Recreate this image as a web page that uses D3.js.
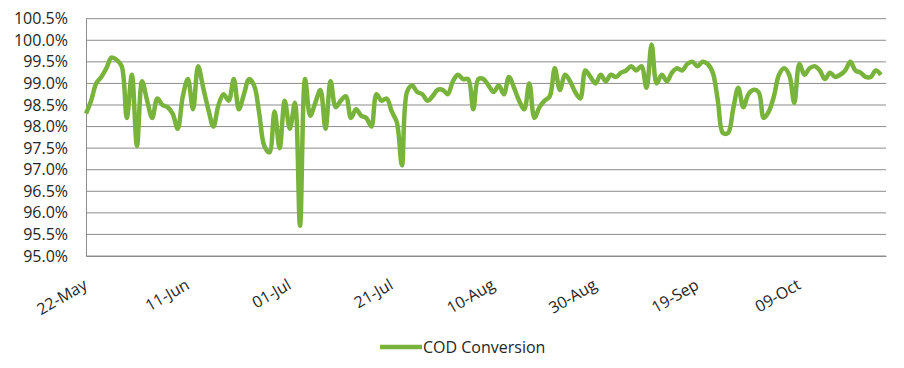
<!DOCTYPE html>
<html>
<head>
<meta charset="utf-8">
<script src="https://cdn.jsdelivr.net/npm/d3@7"></script>
<style>
  body { margin: 0; background: #fff; }
  text { font-family: "Open Sans", "Liberation Sans", sans-serif; fill: #262626; }
</style>
</head>
<body>
<div id="chart-area"></div>
<script>
// daily COD conversion (%), first day 22-May
var startDay = "22/05/2019";
var conversion = [
  98.3, 98.6, 99.0, 99.15, 99.35, 99.6, 99.55, 99.4, 98.2, 99.2,
  97.55, 99.05, 98.6, 98.2, 98.65, 98.5, 98.45, 98.3, 97.95, 98.7,
  99.1, 98.4, 99.4, 98.9, 98.4, 98.0, 98.5, 98.75, 98.6, 99.1,
  98.4, 98.75, 99.1, 98.95, 98.3, 97.55, 97.4, 98.35, 97.5, 98.6,
  97.95, 98.55, 95.7, 99.1, 98.25, 98.55, 98.85, 97.95, 99.05, 98.45,
  98.6, 98.7, 98.2, 98.4, 98.25, 98.2, 98.0, 98.75, 98.6, 98.65,
  98.35, 98.1, 97.1, 98.8, 98.95, 98.8, 98.75, 98.6, 98.7, 98.85,
  98.85, 98.75, 99.05, 99.2, 99.1, 99.1, 98.4, 99.1, 99.1, 98.95,
  98.8, 98.95, 98.75, 99.15, 98.9, 98.6, 98.4, 99.0, 98.2, 98.45,
  98.6, 98.7, 99.35, 98.85, 99.2, 99.05, 98.8, 98.65, 99.3, 99.15,
  99.0, 99.2, 99.05, 99.2, 99.15, 99.25, 99.3, 99.4, 99.3, 99.4,
  98.9, 99.9, 99.0, 99.2, 99.05, 99.25, 99.35, 99.3, 99.45, 99.5,
  99.4, 99.5, 99.45, 99.25, 98.6, 97.85, 97.85, 98.4, 98.9, 98.45,
  98.75, 98.85, 98.8, 98.2, 98.35, 98.7, 99.2, 99.35, 99.2, 98.55,
  99.45, 99.2, 99.35, 99.4, 99.3, 99.1, 99.25, 99.15, 99.2, 99.3,
  99.5, 99.3, 99.25, 99.15, 99.15, 99.3, 99.2
];
var xTicks = ["22/05/2019", "11/06/2019", "01/07/2019", "21/07/2019",
              "10/08/2019", "30/08/2019", "19/09/2019", "09/10/2019"];
var yTicks = [95.0, 95.5, 96.0, 96.5, 97.0, 97.5, 98.0, 98.5, 99.0, 99.5, 100.0, 100.5];
var seriesName = "COD Conversion";

var margin = { left: 86, right: 18, top: 18.7, bottom: 112 },
    width = 904 - margin.left - margin.right,
    height = 368 - margin.top - margin.bottom;

var svg = d3.select("#chart-area").append("svg")
    .attr("width", 904)
    .attr("height", 368);

var g = svg.append("g")
    .attr("transform", "translate(" + margin.left + "," + margin.top + ")");

var parseTime = d3.timeParse("%d/%m/%Y");
var day0 = parseTime(startDay);

var data = conversion.map(function(v, i) {
    return { date: d3.timeDay.offset(day0, i), value: v };
});

var x_scale = d3.scaleTime()
    .domain([day0, d3.timeDay.offset(day0, 157)])
    .range([0, width]);
var y_scale = d3.scaleLinear()
    .domain([95, 100.5])
    .range([height, 0]);

// gridlines
g.selectAll(".grid")
    .data(yTicks)
    .enter().append("line")
    .attr("class", "grid")
    .attr("x1", 0)
    .attr("x2", width)
    .attr("y1", function(d) { return y_scale(d); })
    .attr("y2", function(d) { return y_scale(d); })
    .attr("stroke", "#8c8c8c")
    .attr("stroke-width", 1);

// y axis
var yAxis = g.append("g")
    .call(d3.axisLeft(y_scale)
        .tickValues(yTicks)
        .tickSize(0)
        .tickPadding(18)
        .tickFormat(function(d) { return d3.format(".1f")(d) + "%"; }));
yAxis.select(".domain").attr("stroke", "#8c8c8c");
yAxis.selectAll("text").attr("font-size", "16px").attr("fill", "#262626");

// x axis
var xAxis = g.append("g")
    .attr("transform", "translate(0," + height + ")")
    .call(d3.axisBottom(x_scale)
        .tickValues(xTicks.map(parseTime))
        .tickSize(0)
        .tickFormat(d3.timeFormat("%d-%b")));
xAxis.select(".domain").attr("stroke", "#8c8c8c");
xAxis.selectAll("text")
    .attr("font-size", "16px")
    .attr("fill", "#262626")
    .attr("text-anchor", "end")
    .attr("dy", "0")
    .attr("y", 0)
    .attr("transform", "translate(2,32) rotate(-30)");

// line
var line = d3.line()
    .curve(d3.curveCatmullRom.alpha(0.5))
    .x(function(d) { return x_scale(d.date); })
    .y(function(d) { return y_scale(d.value); });

g.append("path")
    .datum(data)
    .attr("fill", "none")
    .attr("stroke", "#78b33c")
    .attr("stroke-width", 4.5)
    .attr("stroke-linejoin", "round")
    .attr("d", line);

// legend
var legend = svg.append("g")
    .attr("transform", "translate(380,347)");
legend.append("line")
    .attr("x1", 0)
    .attr("x2", 42)
    .attr("stroke", "#78b33c")
    .attr("stroke-width", 4.5);
legend.append("text")
    .attr("x", 43)
    .attr("dy", "0.35em")
    .attr("font-size", "16px")
    .text(seriesName);
</script>
</body>
</html>
